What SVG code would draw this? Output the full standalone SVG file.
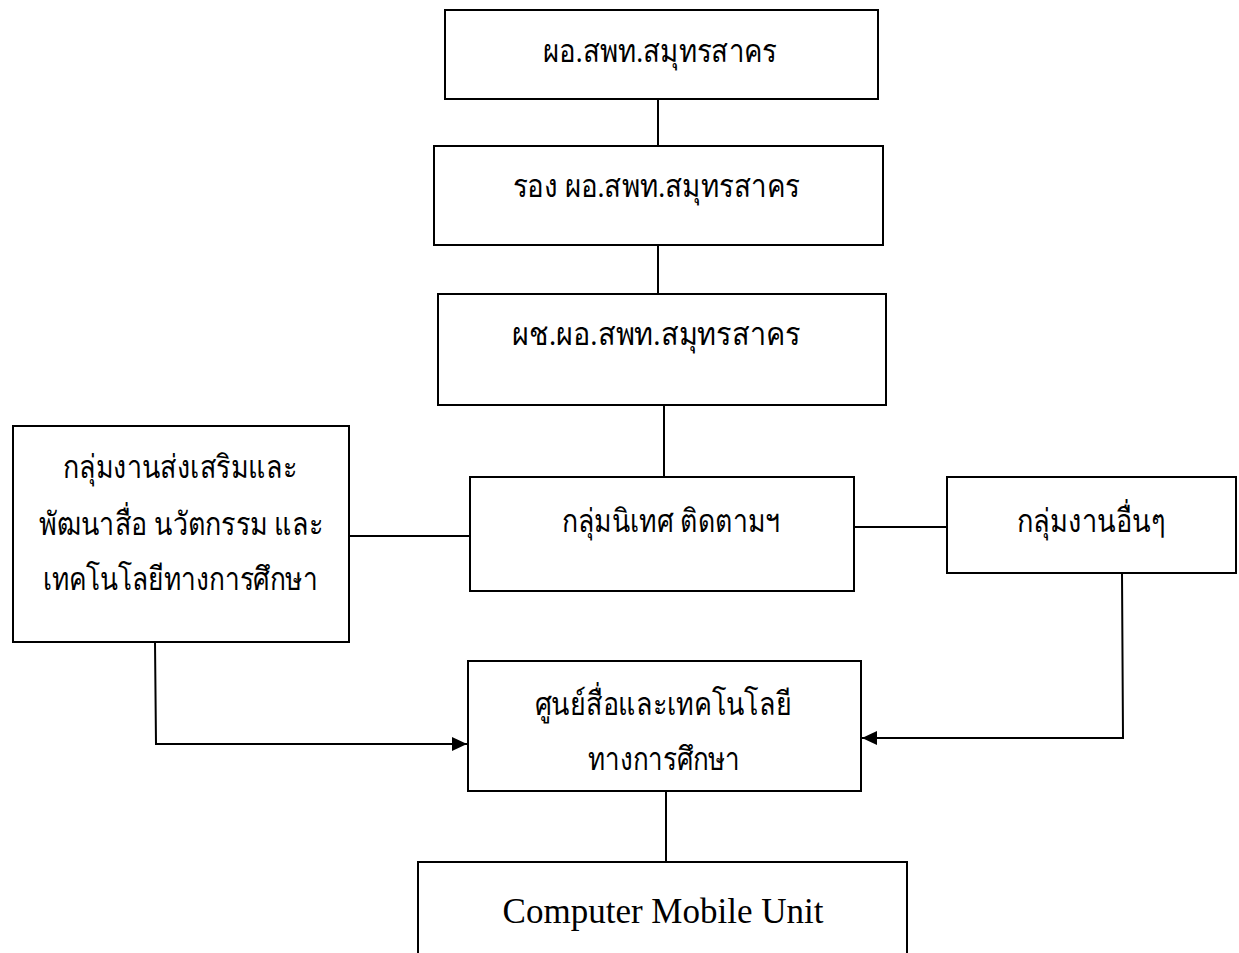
<svg xmlns="http://www.w3.org/2000/svg" width="1239" height="953" viewBox="0 0 1239 953">
<style>
.box{fill:#fff;stroke:#000;stroke-width:2}
.ln{fill:none;stroke:#000;stroke-width:2}
.t{font-family:"Liberation Serif","DejaVu Serif",serif;font-size:32px;fill:#000;text-anchor:middle}
.en{font-family:"Liberation Serif",serif;font-size:35px;fill:#000;text-anchor:middle}
</style>
<defs>
<marker id="ah" markerWidth="15" markerHeight="14" refX="15" refY="7" orient="auto" markerUnits="userSpaceOnUse" viewBox="0 0 15 14">
<path d="M0,0 L15,7 L0,14 z" fill="#000"/>
</marker>
</defs>
<rect width="1239" height="953" fill="#fff"/>
<g id="connectors">
<line class="ln" x1="658" y1="99" x2="658" y2="146"/>
<line class="ln" x1="658" y1="245" x2="658" y2="294"/>
<line class="ln" x1="664" y1="405" x2="664" y2="477"/>
<line class="ln" x1="349" y1="536" x2="470" y2="536"/>
<line class="ln" x1="854" y1="527" x2="947" y2="527"/>
<polyline class="ln" points="155,642 156,744 467,744" marker-end="url(#ah)"/>
<polyline class="ln" points="1122,573 1123,738 862,738" marker-end="url(#ah)"/>
<line class="ln" x1="666" y1="791" x2="666" y2="862"/>
</g>
<g id="n1"><rect class="box" x="445" y="10" width="433" height="89"/><text class="t" x="660" y="62" textLength="234" lengthAdjust="spacingAndGlyphs">ผอ.สพท.สมุทรสาคร</text></g>
<g id="n2"><rect class="box" x="434" y="146" width="449" height="99"/><text class="t" x="656" y="197" textLength="287" lengthAdjust="spacingAndGlyphs">รอง ผอ.สพท.สมุทรสาคร</text></g>
<g id="n3"><rect class="box" x="438" y="294" width="448" height="111"/><text class="t" x="656" y="345" textLength="288" lengthAdjust="spacingAndGlyphs">ผช.ผอ.สพท.สมุทรสาคร</text></g>
<g id="n4"><rect class="box" x="470" y="477" width="384" height="114"/><text class="t" x="671" y="532" textLength="218" lengthAdjust="spacingAndGlyphs">กลุ่มนิเทศ  ติดตามฯ</text></g>
<g id="n5"><rect class="box" x="13" y="426" width="336" height="216"/>
<text class="t" x="180" y="478" textLength="234" lengthAdjust="spacingAndGlyphs">กลุ่มงานส่งเสริมและ</text>
<text class="t" x="181" y="535" textLength="284" lengthAdjust="spacingAndGlyphs">พัฒนาสื่อ นวัตกรรม และ</text>
<text class="t" x="180" y="590" textLength="275" lengthAdjust="spacingAndGlyphs">เทคโนโลยีทางการศึกษา</text></g>
<g id="n6"><rect class="box" x="947" y="477" width="289" height="96"/><text class="t" x="1091" y="532" textLength="148" lengthAdjust="spacingAndGlyphs">กลุ่มงานอื่นๆ</text></g>
<g id="n7"><rect class="box" x="468" y="661" width="393" height="130"/>
<text class="t" x="663" y="715" textLength="257" lengthAdjust="spacingAndGlyphs">ศูนย์สื่อและเทคโนโลยี</text>
<text class="t" x="664" y="770" textLength="152" lengthAdjust="spacingAndGlyphs">ทางการศึกษา</text></g>
<g id="n8"><rect class="box" x="418" y="862" width="489" height="100"/><text class="en" x="663" y="923">Computer Mobile Unit</text></g>
</svg>
